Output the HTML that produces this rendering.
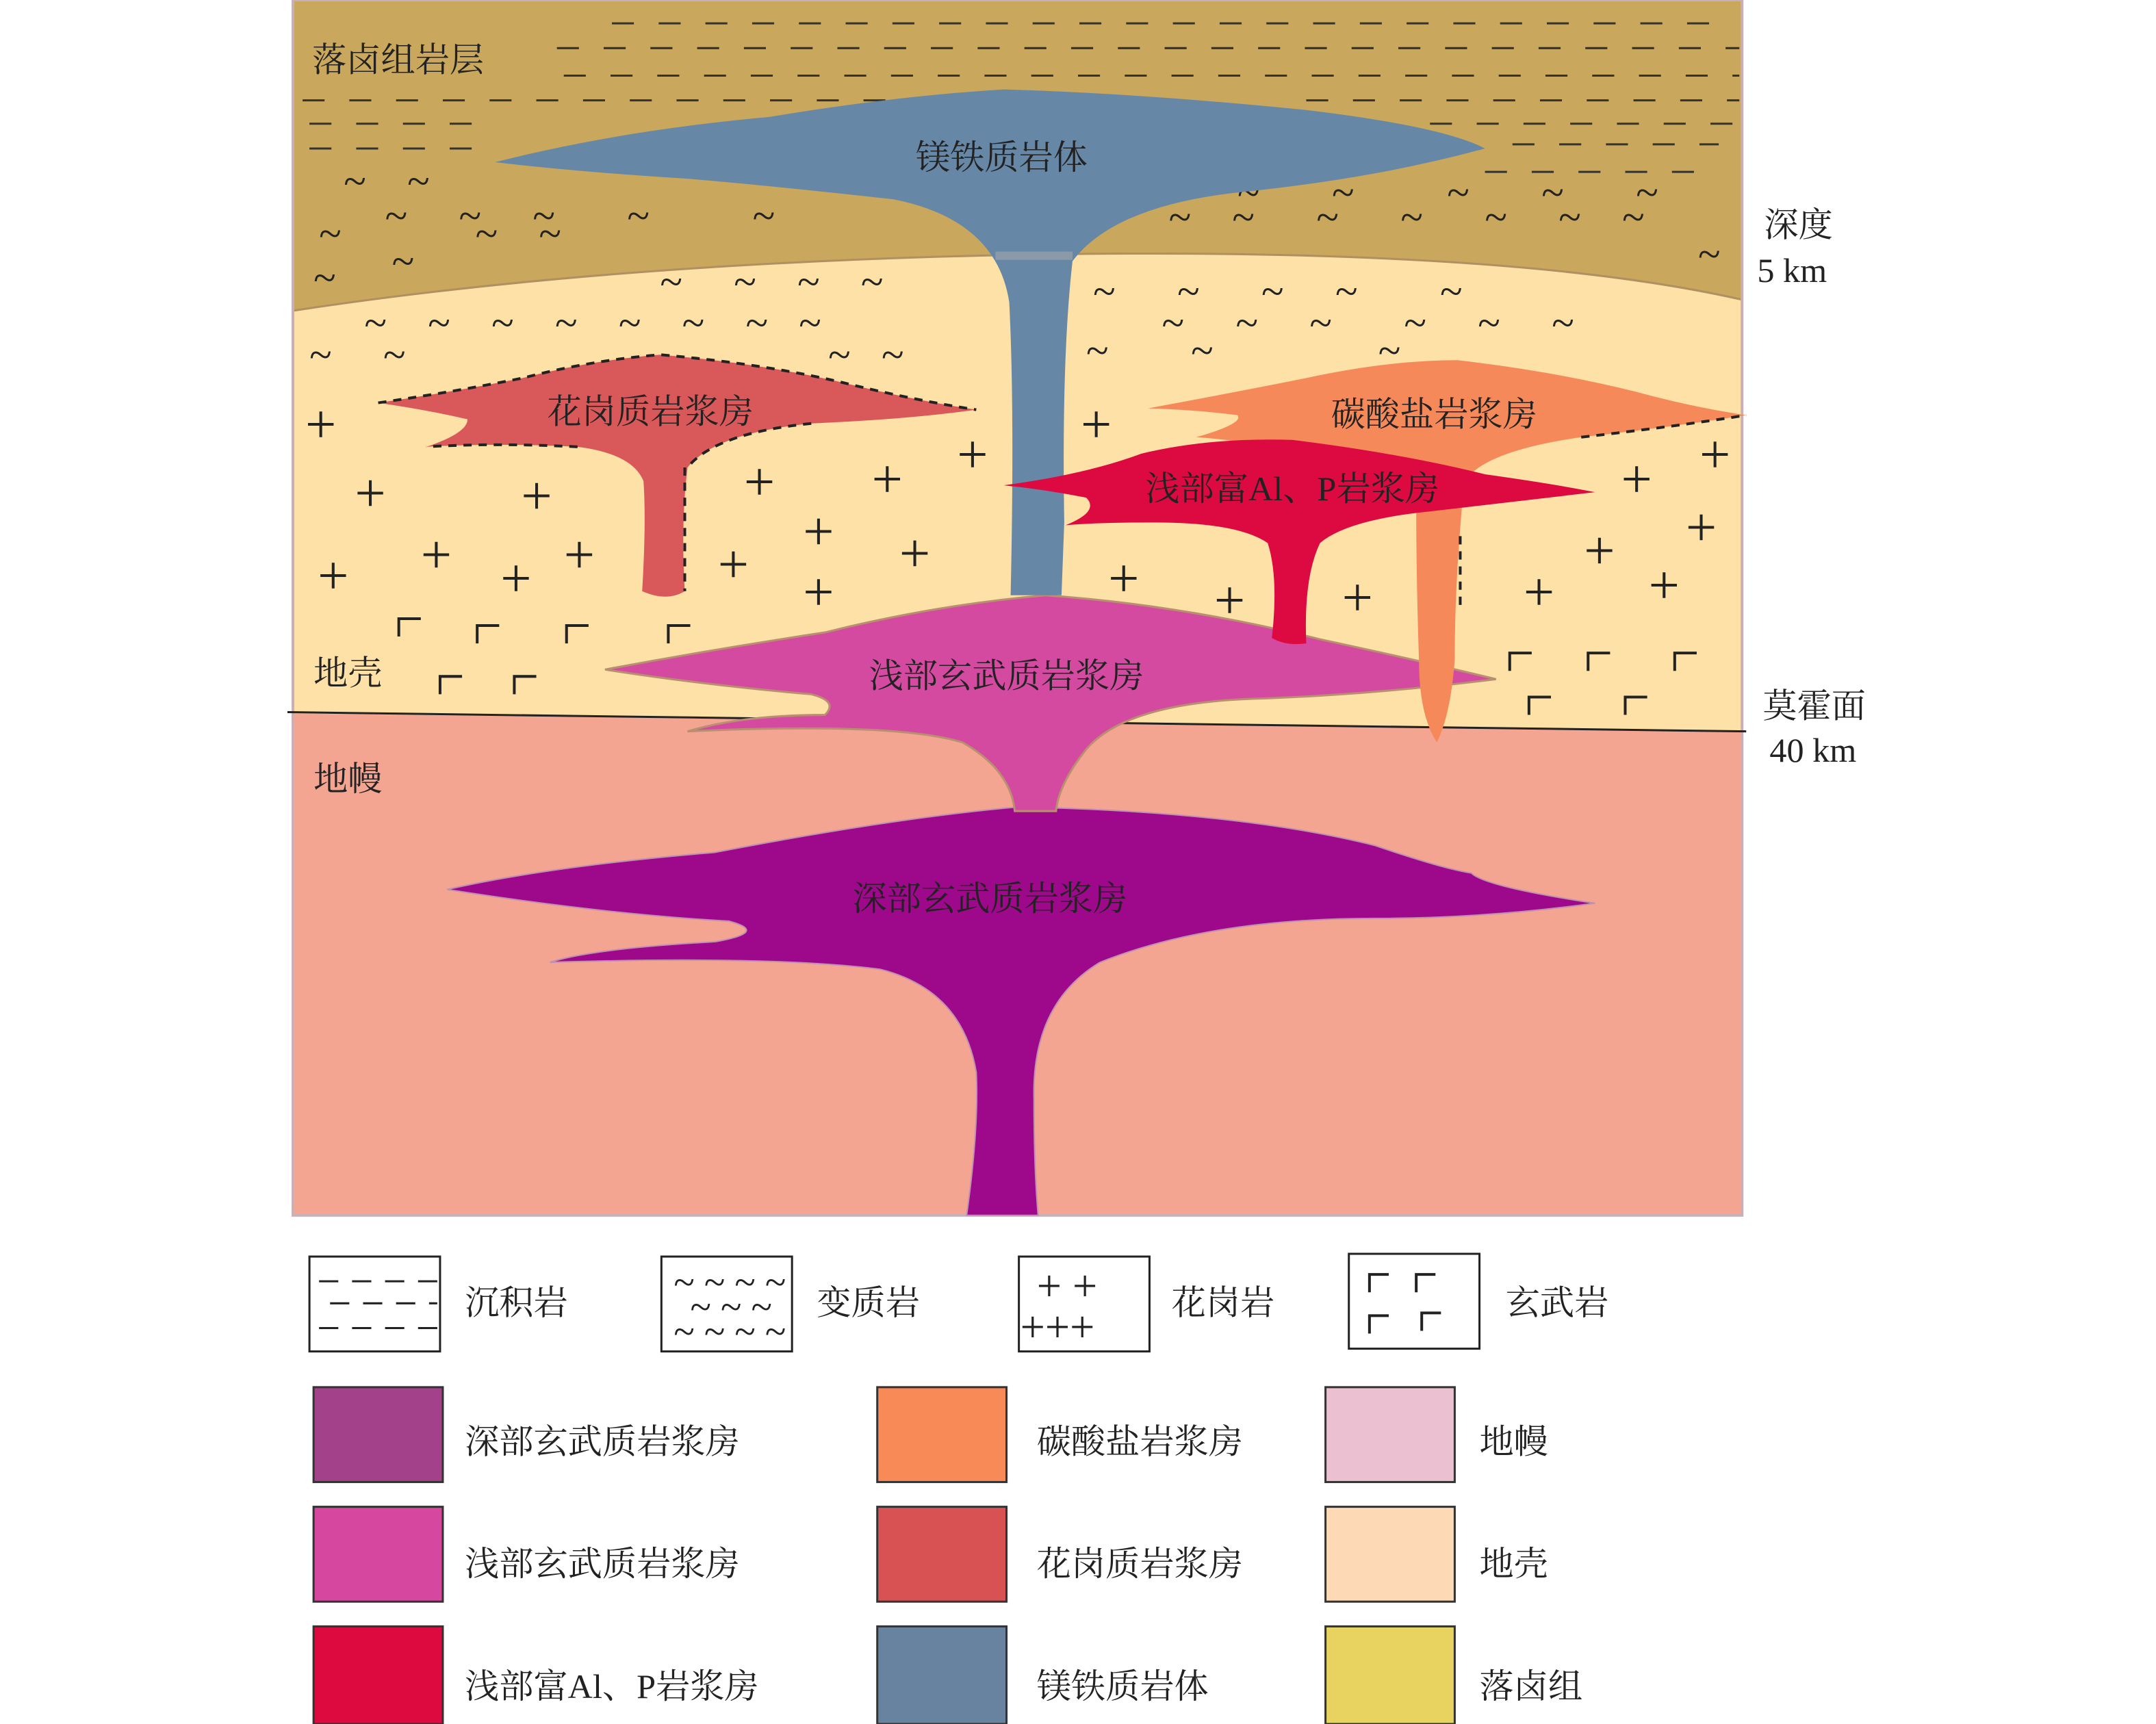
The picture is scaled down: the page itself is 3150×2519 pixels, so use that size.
<!DOCTYPE html>
<html><head><meta charset="utf-8"><style>
html,body{margin:0;padding:0;background:#fff}
svg{display:block}
text{font-family:"Liberation Serif","Noto Serif CJK SC","Noto Sans CJK SC",serif;fill:#222}
</style></head><body>
<svg width="3150" height="2519" viewBox="0 0 1568 1254" xmlns="http://www.w3.org/2000/svg">
<rect x="213" y="0" width="1054" height="884" fill="#f4a592"/>
<path d="M213 0 H1267 V532 L213 519 Z" fill="#fde1a6"/>
<path d="M213 0 H1267 V218 Q1100 180 760 185 Q450 190 213 226 Z" fill="#c9a75d"/>
<path d="M213 226 Q450 190 760 185 Q1100 180 1267 218" fill="none" stroke="#b09060" stroke-width="1.5"/>
<rect x="213" y="0" width="1054" height="884" fill="none" stroke="#c8b0b8" stroke-width="2"/>
<line x1="209" y1="518" x2="1270" y2="532" stroke="#222" stroke-width="1.5"/>
<g stroke="#333" stroke-width="1.5" stroke-dasharray="16 18">
<line x1="445" y1="17" x2="1250" y2="17"/>
<line x1="405" y1="35" x2="1265" y2="35"/>
<line x1="410" y1="55" x2="1265" y2="55"/>
<line x1="220" y1="73" x2="700" y2="73"/>
<line x1="950" y1="73" x2="1265" y2="73"/>
<line x1="225" y1="90" x2="360" y2="90"/>
<line x1="1040" y1="90" x2="1265" y2="90"/>
<line x1="225" y1="108" x2="360" y2="108"/>
<line x1="1100" y1="105" x2="1250" y2="105"/>
<line x1="1080" y1="125" x2="1250" y2="125"/>
</g>
<g font-size="30" fill="#333">
<text x="250" y="142">~&#160;&#160;&#160;&#160;~</text>
<text x="280" y="167">~&#160;&#160;&#160;&#160;&#160;~&#160;&#160;&#160;&#160;&#160;~&#160;&#160;&#160;&#160;&#160;&#160;&#160;~&#160;&#160;&#160;&#160;&#160;&#160;&#160;&#160;&#160;&#160;~</text>
<text x="232" y="180">~&#160;&#160;&#160;&#160;&#160;&#160;&#160;&#160;&#160;&#160;&#160;&#160;&#160;~&#160;&#160;&#160;&#160;~</text>
<text x="285" y="200">~</text>
<text x="228" y="212">~</text>
<text x="850" y="168">~&#160;&#160;&#160;&#160;~&#160;&#160;&#160;&#160;&#160;&#160;~&#160;&#160;&#160;&#160;&#160;&#160;~&#160;&#160;&#160;&#160;&#160;&#160;~&#160;&#160;&#160;&#160;&#160;~&#160;&#160;&#160;&#160;~</text>
<text x="900" y="150">~&#160;&#160;&#160;&#160;&#160;&#160;&#160;~&#160;&#160;&#160;&#160;&#160;&#160;&#160;&#160;&#160;~&#160;&#160;&#160;&#160;&#160;&#160;&#160;~&#160;&#160;&#160;&#160;&#160;&#160;&#160;~</text>
<text x="1235" y="195">~</text>
<text x="480" y="215">~&#160;&#160;&#160;&#160;&#160;~&#160;&#160;&#160;&#160;~&#160;&#160;&#160;&#160;~</text>
<text x="265" y="245">~&#160;&#160;&#160;&#160;~&#160;&#160;&#160;&#160;~&#160;&#160;&#160;&#160;~&#160;&#160;&#160;&#160;~&#160;&#160;&#160;&#160;~&#160;&#160;&#160;&#160;~&#160;&#160;&#160;~</text>
<text x="225" y="268">~&#160;&#160;&#160;&#160;&#160;~&#160;&#160;&#160;&#160;&#160;&#160;&#160;&#160;&#160;&#160;&#160;&#160;&#160;&#160;&#160;&#160;&#160;&#160;&#160;&#160;&#160;&#160;&#160;&#160;&#160;&#160;&#160;&#160;&#160;&#160;&#160;&#160;&#160;&#160;&#160;&#160;&#160;&#160;&#160;&#160;&#160;~&#160;&#160;&#160;~</text>
<text x="795" y="222">~&#160;&#160;&#160;&#160;&#160;&#160;~&#160;&#160;&#160;&#160;&#160;&#160;~&#160;&#160;&#160;&#160;&#160;~&#160;&#160;&#160;&#160;&#160;&#160;&#160;&#160;~</text>
<text x="845" y="245">~&#160;&#160;&#160;&#160;&#160;~&#160;&#160;&#160;&#160;&#160;~&#160;&#160;&#160;&#160;&#160;&#160;&#160;~&#160;&#160;&#160;&#160;&#160;~&#160;&#160;&#160;&#160;&#160;~</text>
<text x="790" y="265">~&#160;&#160;&#160;&#160;&#160;&#160;&#160;&#160;~&#160;&#160;&#160;&#160;&#160;&#160;&#160;&#160;&#160;&#160;&#160;&#160;&#160;&#160;&#160;&#160;~</text>
</g>
<g font-size="40" fill="#222" font-family="Liberation Sans,sans-serif">
<text x="222" y="322">+</text><text x="258" y="372">+</text><text x="379" y="374">+</text><text x="231" y="432">+</text><text x="306" y="417">+</text><text x="364" y="434">+</text><text x="410" y="417">+</text><text x="541" y="364">+</text><text x="634" y="362">+</text><text x="584" y="400">+</text><text x="522" y="424">+</text><text x="584" y="444">+</text><text x="654" y="416">+</text><text x="696" y="344">+</text><text x="786" y="322">+</text><text x="806" y="434">+</text><text x="883" y="450">+</text><text x="976" y="448">+</text><text x="1108" y="444">+</text><text x="1152" y="414">+</text><text x="1179" y="362">+</text><text x="1199" y="439">+</text><text x="1226" y="397">+</text><text x="1236" y="344">+</text>
</g>
<g stroke="#222" stroke-width="2" fill="none">
<path d="M290 463V450H306"/><path d="M347 468V455H363"/><path d="M412 468V455H428"/><path d="M486 468V455H502"/><path d="M320 505V492H336"/><path d="M374 505V492H390"/><path d="M1098 488V475H1114"/><path d="M1155 488V475H1171"/><path d="M1218 488V475H1234"/><path d="M1112 520V507H1128"/><path d="M1182 520V507H1198"/>
</g>
<path d="M325 647 Q400 630 520 620 Q650 595 740 587 Q900 590 1000 615 Q1050 632 1070 635 Q1080 645 1160 657 Q1080 668 1000 668 Q880 668 800 700 Q750 730 752 800 Q752 850 755 884 H703 Q712 820 710 780 Q700 720 640 705 Q560 695 400 700 Q430 690 520 685 Q560 678 530 670 Q440 665 325 647Z" fill="#9e088a" stroke="#c090b0" stroke-width="1"/>
<path d="M440 487 Q520 472 600 460 Q680 440 760 433 Q860 440 960 465 Q1030 480 1088 494 Q1000 505 920 508 Q820 510 790 545 Q770 570 768 590 H738 Q735 560 700 540 Q650 525 500 532 Q540 520 600 520 Q610 510 590 505 Q510 498 440 487Z" fill="#d54aa1" stroke="#b89070" stroke-width="1.5"/>
<path d="M360 118 Q450 95 560 85 Q650 70 730 65 Q830 68 950 80 Q1050 92 1080 108 Q1000 130 900 140 Q810 150 780 190 Q772 260 774 380 L772 433 H735 Q738 300 734 220 Q725 160 650 145 Q560 135 500 130 Q420 125 360 118Z" fill="#6688a6"/>
<rect x="724" y="183" width="56" height="6" fill="#8a9aa8"/>
<path d="M275 293 Q330 285 380 275 Q430 262 480 258 Q560 265 620 280 Q670 292 710 298 Q660 305 590 308 Q520 315 500 340 Q495 380 498 430 Q485 438 467 430 Q470 380 468 350 Q460 330 420 325 Q360 322 310 325 Q340 315 340 305 Q310 298 275 293Z" fill="#d9585a"/>
<path d="M275 293 Q330 285 380 275 Q430 262 480 258 Q560 265 620 280 Q670 292 710 298 M590 308 Q520 315 500 340 M498 340 V430 M420 325 Q360 322 310 325" fill="none" stroke="#222" stroke-width="2" stroke-dasharray="6 5"/>
<path d="M835 297 Q900 285 950 275 Q1010 262 1060 262 Q1130 270 1190 285 Q1230 296 1270 302 Q1220 310 1150 318 Q1080 328 1065 350 Q1058 420 1058 480 Q1055 520 1045 540 Q1032 520 1032 480 Q1030 420 1030 370 Q1010 340 960 330 Q900 320 870 318 Q905 308 900 302 Q870 298 835 297Z" fill="#f5895a"/>
<path d="M1150 318 Q1220 310 1270 302 M1062 390 V440" fill="none" stroke="#222" stroke-width="2" stroke-dasharray="6 5"/>
<path d="M730 353 Q790 345 830 330 Q880 318 940 320 Q1020 330 1080 345 Q1130 352 1160 358 Q1100 365 1040 372 Q980 378 960 395 Q948 420 950 468 Q935 470 925 464 Q930 420 922 395 Q900 380 840 380 Q800 380 775 382 Q800 372 790 362 Q760 356 730 353Z" fill="#dc0a40"/>
<g font-size="25">
<text x="227" y="52">落卤组岩层</text>
<text x="666" y="123">镁铁质岩体</text>
<text x="398" y="308">花岗质岩浆房</text>
<text x="968" y="310">碳酸盐岩浆房</text>
<text x="833" y="364">浅部富Al、P岩浆房</text>
<text x="632" y="500">浅部玄武质岩浆房</text>
<text x="620" y="662">深部玄武质岩浆房</text>
<text x="228" y="498">地壳</text>
<text x="228" y="575">地幔</text>
<text x="1283" y="172">深度</text>
<text x="1278" y="205">5 km</text>
<text x="1282" y="522">莫霍面</text>
<text x="1287" y="554">40 km</text>
</g>
<g fill="#fff" stroke="#222" stroke-width="1.5">
<rect x="225" y="914" width="95" height="69"/><rect x="481" y="914" width="95" height="69"/><rect x="741" y="914" width="95" height="69"/><rect x="981" y="912" width="95" height="69"/>
</g>
<g stroke="#222" stroke-width="1.5" stroke-dasharray="14 10">
<line x1="232" y1="932" x2="318" y2="932"/><line x1="240" y1="948" x2="318" y2="948"/><line x1="232" y1="966" x2="318" y2="966"/>
</g>
<g font-size="28" fill="#222"><text x="490" y="942">~ ~ ~ ~</text><text x="502" y="960">~ ~ ~</text><text x="490" y="978">~ ~ ~ ~</text></g>
<g font-size="32" font-family="Liberation Sans,sans-serif" fill="#222"><text x="754" y="946">+ +</text><text x="742" y="976">+++</text></g>
<g stroke="#222" stroke-width="2" fill="none"><path d="M996 940V927H1010"/><path d="M1030 940V927H1044"/><path d="M996 970V957H1010"/><path d="M1034 968V955H1048"/></g>
<g font-size="25">
<text x="338" y="956">沉积岩</text><text x="594" y="956">变质岩</text><text x="852" y="956">花岗岩</text><text x="1095" y="956">玄武岩</text>
</g>
<g stroke="#333" stroke-width="1.5">
<rect x="228" y="1009" width="94" height="69" fill="#a3418a"/>
<rect x="228" y="1096" width="94" height="69" fill="#d6479f"/>
<rect x="228" y="1183" width="94" height="71" fill="#dc0a3f"/>
<rect x="638" y="1009" width="94" height="69" fill="#f88a57"/>
<rect x="638" y="1096" width="94" height="69" fill="#d95253"/>
<rect x="638" y="1183" width="94" height="71" fill="#6783a0"/>
<rect x="964" y="1009" width="94" height="69" fill="#ebc0d0"/>
<rect x="964" y="1096" width="94" height="69" fill="#fdd9b5"/>
<rect x="964" y="1183" width="94" height="71" fill="#e8d360"/>
</g>
<g font-size="25">
<text x="338" y="1057">深部玄武质岩浆房</text><text x="338" y="1146">浅部玄武质岩浆房</text><text x="338" y="1235">浅部富Al、P岩浆房</text>
<text x="754" y="1057">碳酸盐岩浆房</text><text x="754" y="1146">花岗质岩浆房</text><text x="754" y="1235">镁铁质岩体</text>
<text x="1076" y="1057">地幔</text><text x="1076" y="1146">地壳</text><text x="1076" y="1235">落卤组</text>
</g>
</svg>
</body></html>
